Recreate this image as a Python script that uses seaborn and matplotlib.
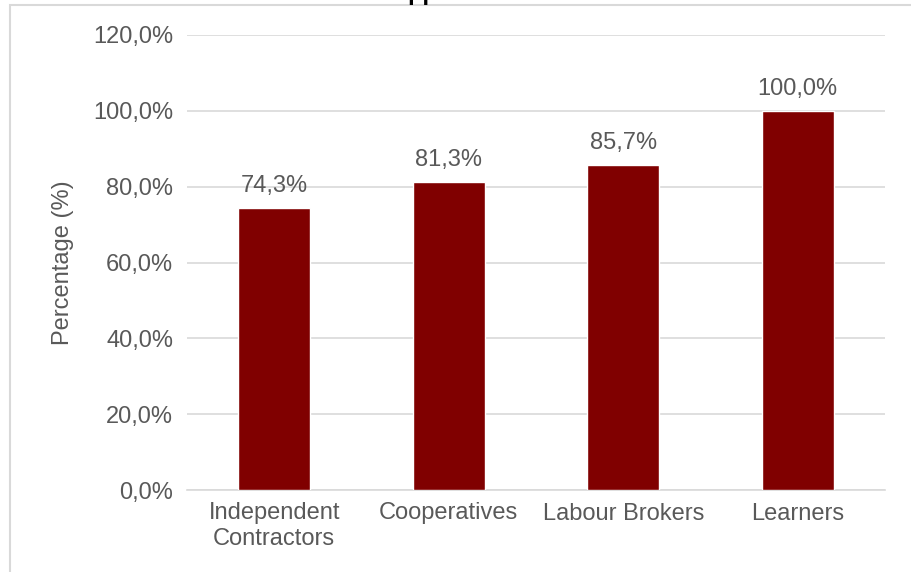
import matplotlib as mpl
mpl.use('Agg')
import matplotlib.pyplot as plt
import matplotlib.patches as mpatches
import seaborn as sns
import pandas as pd

categories = ["Independent\nContractors", "Cooperatives", "Labour Brokers", "Learners"]
values = [74.3, 81.3, 85.7, 100.0]
yticks = [0, 20, 40, 60, 80, 100, 120]
title = "Intermediate Service Provider Supported"

df = pd.DataFrame({"category": categories, "pct": values})

sns.set_theme(style="white")
plt.rcParams['font.family'] = ['Liberation Sans', 'DejaVu Sans']

grey = "#595959"
fig = plt.figure(figsize=(9.11, 5.72), dpi=100)
ax = fig.add_axes([187 / 911, 1 - 490 / 572, 698 / 911, 455 / 572])

sns.barplot(data=df, x="category", y="pct", color="#800000", saturation=1,
            width=0.41, ax=ax, zorder=3)

ax.set_ylim(0, 120)
ax.set_yticks(yticks)
ax.set_yticklabels([f"{t:.1f}%".replace(".", ",") for t in yticks])
ax.yaxis.grid(True, color="#d9d9d9", linewidth=1.2, zorder=0)
ax.set_axisbelow(True)
for s in ["top", "right", "left"]:
    ax.spines[s].set_visible(False)
ax.spines["bottom"].set_color("#d9d9d9")
ax.spines["bottom"].set_linewidth(1.2)
ax.tick_params(axis="both", length=0, labelsize=17, labelcolor=grey)
ax.tick_params(axis="y", pad=10)
ax.tick_params(axis="x", pad=9)
ax.set_xlabel("")
ax.set_ylabel("Percentage (%)", fontsize=17, color=grey, labelpad=14)

for bar, v in zip(ax.patches, values):
    ax.annotate(f"{v:.1f}%".replace(".", ","),
                (bar.get_x() + bar.get_width() / 2, bar.get_height()),
                xytext=(0, 8), textcoords="offset points",
                ha="center", va="bottom", fontsize=17, color=grey)

# chart frame (partially cropped, as in the reference)
fig.patches.append(mpatches.Rectangle((10 / 911, -0.1), 2, 1 - 5 / 572 + 0.1,
                                      transform=fig.transFigure, fill=False,
                                      edgecolor="#d9d9d9", linewidth=1.5))
# title sits mostly above the cropped top edge, as in the reference
fig.text(38 / 911, 1.0, title, fontsize=17, fontweight="bold",
         color="black", va="baseline", ha="left")

fig.savefig("out.png", dpi=100)
